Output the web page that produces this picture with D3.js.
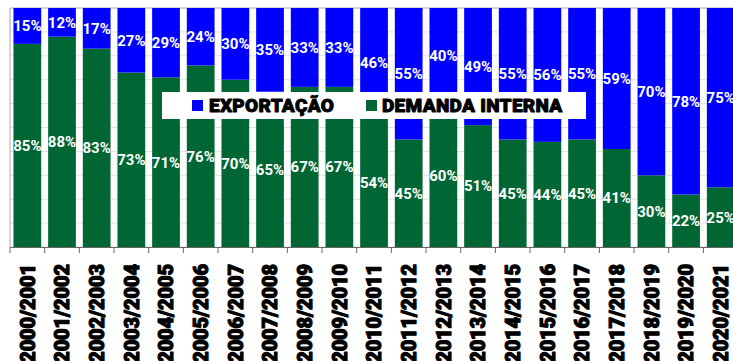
<!DOCTYPE html>
<html>
<head>
<meta charset="utf-8">
<script src="https://cdn.jsdelivr.net/npm/d3@7"></script>
<style>
  html, body { margin: 0; padding: 0; background: #fff; }
  svg { display: block; }
</style>
</head>
<body>
<svg id="chart" width="733" height="361"></svg>
<script>
// Safras e participação (%) de cada destino
const safras = ["2000/2001","2001/2002","2002/2003","2003/2004","2004/2005","2005/2006","2006/2007",
  "2007/2008","2008/2009","2009/2010","2010/2011","2011/2012","2012/2013","2013/2014","2014/2015",
  "2015/2016","2016/2017","2017/2018","2018/2019","2019/2020","2020/2021"];
const demandaInterna = [85,88,83,73,71,76,70,65,67,67,54,45,60,51,45,44,45,41,30,22,25];
const exportacao     = [15,12,17,27,29,24,30,35,33,33,46,55,40,49,55,56,55,59,70,78,75];
const yTicks = [0,10,20,30,40,50,60,70,80,90,100];

const seriesNames = ["DEMANDA INTERNA", "EXPORTAÇÃO"];
const colors = { "DEMANDA INTERNA": "#006633", "EXPORTAÇÃO": "#0000ff" };

const svg = d3.select("#chart");
const plotLeft = 10, plotTop = 8, plotBottom = 247;
const step = 34.67;
const plotRight = plotLeft + step * safras.length;

const x = d3.scaleBand().domain(safras).range([plotLeft, plotRight]).paddingInner(0.2).paddingOuter(0.1);
const y = d3.scaleLinear().domain([0, 100]).range([plotBottom, plotTop]);

// grid
svg.append("g").selectAll("line").data(yTicks).join("line")
  .attr("x1", plotLeft).attr("x2", 733)
  .attr("y1", d => y(d)).attr("y2", d => y(d))
  .attr("stroke", d => d === 100 ? "#aaa" : "#e0e0e0").attr("stroke-width", 1);
svg.append("line").attr("x1", plotLeft).attr("x2", plotLeft).attr("y1", plotTop).attr("y2", plotBottom)
  .attr("stroke", "#aaa");

const rows = safras.map((s, i) => ({ safra: s, "DEMANDA INTERNA": demandaInterna[i], "EXPORTAÇÃO": exportacao[i] }));
const stack = d3.stack().keys(seriesNames)(rows);

const layers = svg.append("g").selectAll("g").data(stack).join("g")
  .attr("fill", d => colors[d.key]);
layers.selectAll("rect").data(d => d).join("rect")
  .attr("x", d => x(d.data.safra))
  .attr("width", x.bandwidth())
  .attr("y", d => y(d[1]))
  .attr("height", d => y(d[0]) - y(d[1]));

// percentage labels
layers.selectAll("text").data(d => d.map(v => ({ v, key: d.key }))).join("text")
  .attr("x", d => x(d.v.data.safra) + x.bandwidth() / 2)
  .attr("y", d => (y(d.v[0]) + y(d.v[1])) / 2)
  .attr("dy", "0.36em")
  .attr("text-anchor", "middle")
  .attr("fill", "#fff")
  .attr("font-family", "Roboto, sans-serif")
  .attr("font-weight", 700)
  .attr("font-size", 15)
  .text(d => d.v.data[d.key] + "%");

// x axis
const xAxis = svg.append("g").attr("transform", `translate(0,${plotBottom})`)
  .call(d3.axisBottom(x).tickSizeOuter(0).tickSizeInner(6).tickFormat(d => d));
xAxis.select(".domain").attr("stroke", "#666");
xAxis.selectAll(".tick line").attr("stroke", "#666")
  .attr("transform", `translate(${-step / 2},0)`);
xAxis.selectAll(".tick text")
  .attr("transform", "rotate(-90)")
  .attr("text-anchor", "end")
  .attr("x", -17).attr("y", 0).attr("dy", "0.36em")
  .attr("fill", "#000")
  .attr("stroke", "#000").attr("stroke-width", 1.1).attr("stroke-linejoin", "round")
  .attr("font-family", "Roboto, sans-serif")
  .attr("font-weight", 900)
  .attr("font-size", 20)
  .attr("letter-spacing", -0.1);

// legend
const lg = svg.append("g");
lg.append("rect").attr("x", 162).attr("y", 92).attr("width", 424).attr("height", 27).attr("fill", "#fff");
const legendItems = [
  { key: "EXPORTAÇÃO", sx: 192, tx: 209 },
  { key: "DEMANDA INTERNA", sx: 366, tx: 382 }
];
legendItems.forEach(it => {
  lg.append("rect").attr("x", it.sx).attr("y", 100).attr("width", 11).attr("height", 11).attr("fill", colors[it.key]);
  lg.append("text").attr("x", it.tx).attr("y", 105.5).attr("dy", "0.36em")
    .attr("font-family", "Roboto, sans-serif").attr("font-weight", 900).attr("font-size", 19)
    .attr("letter-spacing", 0.3)
    .attr("stroke", "#000").attr("stroke-width", 0.9).attr("stroke-linejoin", "round")
    .attr("fill", "#000").text(it.key);
});
</script>
</body>
</html>
